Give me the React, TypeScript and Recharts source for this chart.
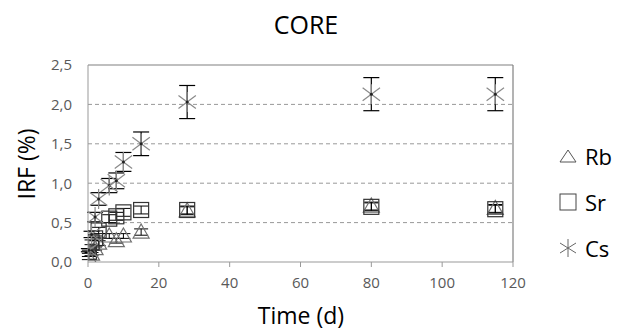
import React from 'react';
import { ScatterChart, Scatter, XAxis, YAxis, CartesianGrid, ErrorBar, ReferenceLine } from 'recharts';

const times = [0.25, 1, 2, 3, 6, 8, 10, 15, 28, 80, 115];
const rbValues = [0.05, 0.1, 0.17, 0.24, 0.33, 0.27, 0.33, 0.38, 0.65, 0.71, 0.68];
const rbErrors = [0.02, 0.02, 0.02, 0.03, 0.03, 0.03, 0.03, 0.04, 0.05, 0.05, 0.05];
const srValues = [0.13, 0.25, 0.3, 0.4, 0.55, 0.58, 0.63, 0.66, 0.66, 0.7, 0.67];
const srErrors = [0.02, 0.03, 0.03, 0.04, 0.05, 0.05, 0.05, 0.05, 0.05, 0.05, 0.05];
const csValues = [0.15, 0.35, 0.57, 0.8, 0.97, 1.03, 1.27, 1.5, 2.03, 2.13, 2.13];
const csErrors = [0.02, 0.04, 0.06, 0.08, 0.09, 0.1, 0.12, 0.15, 0.21, 0.21, 0.21];
const xTicks = [0, 20, 40, 60, 80, 100, 120];
const yTicks = [0, 0.5, 1, 1.5, 2, 2.5];
const seriesNames = ['Rb', 'Sr', 'Cs'];

const build = (vals: number[], errs: number[]) => times.map((t, i) => ({ t, v: vals[i], e: errs[i] }));
const rbData = build(rbValues, rbErrors);
const srData = build(srValues, srErrors);
const csData = build(csValues, csErrors);

const FONT = '"Open Sans", "Noto Sans", sans-serif';

const Triangle = (p: any) => {
  const { cx, cy } = p;
  const s = 8;
  return <path d={`M${cx},${cy - s} L${cx + s},${cy + s * 0.75} L${cx - s},${cy + s * 0.75} Z`} fill="none" stroke="#707070" strokeWidth={1.2} />;
};
const Square = (p: any) => {
  const { cx, cy } = p;
  const s = 7.5;
  return <rect x={cx - s} y={cy - s} width={2 * s} height={2 * s} fill="none" stroke="#333" strokeWidth={1.2} />;
};
const Asterisk = (p: any) => {
  const { cx, cy } = p;
  const s = 10;
  const dx = s * 0.87, dy = s * 0.5;
  return (
    <g stroke="#8a8a8a" strokeWidth={1.2}>
      <line x1={cx} y1={cy - s} x2={cx} y2={cy + s} />
      <line x1={cx - dx} y1={cy - dy * 1.3} x2={cx + dx} y2={cy + dy * 1.3} />
      <line x1={cx - dx} y1={cy + dy * 1.3} x2={cx + dx} y2={cy - dy * 1.3} />
      <circle cx={cx} cy={cy} r={1.5} fill="#222" stroke="none" />
    </g>
  );
};

const fmt = (v: number) => v.toFixed(1).replace('.', ',');

const legendIcons = [
  <svg width="20" height="20"><path d="M10,4 L18,16 L2,16 Z" fill="none" stroke="#555" strokeWidth="1" /></svg>,
  <svg width="20" height="20"><rect x="2" y="2" width="16" height="16" fill="none" stroke="#444" strokeWidth="1" /></svg>,
  <svg width="20" height="20"><g stroke="#666" strokeWidth="1"><line x1="10" y1="1" x2="10" y2="19" /><line x1="2" y1="5" x2="18" y2="15" /><line x1="2" y1="15" x2="18" y2="5" /></g></svg>,
];
const legendCenterY = [156, 202, 248];

export default function App() {
  return (
    <div style={{ position: 'absolute', left: 0, top: 0, width: 618, height: 330, background: '#fff', fontFamily: FONT }}>
      <ScatterChart width={618} height={330} margin={{ top: 65, right: 105, bottom: 38, left: 0 }}>
        <CartesianGrid horizontal vertical={false} stroke="#999" strokeDasharray="4 3" horizontalValues={[0.5, 1, 1.5, 2]} />
        <XAxis
          type="number"
          dataKey="t"
          domain={[0, 120]}
          ticks={xTicks}
          stroke="#999"
          tickSize={5}
          tickMargin={10}
          height={30}
          tick={{ fill: '#595959', fontSize: 15, fontFamily: FONT }}
          allowDataOverflow
        />
        <YAxis
          type="number"
          dataKey="v"
          domain={[0, 2.5]}
          ticks={yTicks}
          width={88}
          stroke="#999"
          tickLine={false}
          tickSize={8}
          tickMargin={8}
          tickFormatter={fmt}
          tick={{ fill: '#595959', fontSize: 15, fontFamily: FONT }}
          allowDataOverflow
        />
        <ReferenceLine y={2.5} stroke="#808080" strokeWidth={1.2} />
        <ReferenceLine x={120} stroke="#808080" strokeWidth={1.2} />
        <Scatter name="Rb" data={rbData} shape={Triangle} isAnimationActive={false}>
          <ErrorBar dataKey="e" direction="y" width={7} stroke="#000" strokeWidth={1} />
        </Scatter>
        <Scatter name="Sr" data={srData} shape={Square} isAnimationActive={false}>
          <ErrorBar dataKey="e" direction="y" width={7} stroke="#000" strokeWidth={1} />
        </Scatter>
        <Scatter name="Cs" data={csData} shape={Asterisk} isAnimationActive={false}>
          <ErrorBar dataKey="e" direction="y" width={8} stroke="#000" strokeWidth={1.2} />
        </Scatter>
      </ScatterChart>
      <div style={{ position: 'absolute', left: 0, width: 612, top: 7, textAlign: 'center', fontSize: 25, color: '#000', lineHeight: 'normal' }}>CORE</div>
      <div style={{ position: 'absolute', left: 0, width: 602, top: 303, height: 24, textAlign: 'center', fontSize: 23, color: '#000', lineHeight: '24px' }}>Time (d)</div>
      <div style={{ position: 'absolute', left: 26, top: 164, width: 0, height: 0 }}>
        <div style={{ position: 'absolute', transform: 'translate(-50%, -50%) rotate(-90deg)', whiteSpace: 'nowrap', fontSize: 23, color: '#000' }}>IRF (%)</div>
      </div>
      {seriesNames.map((n, i) => (
        <div key={n} style={{ position: 'absolute', left: 558, top: legendCenterY[i] - 16, height: 32, display: 'flex', alignItems: 'center', fontSize: 22, color: '#000' }}>
          {legendIcons[i]}
          <span style={{ marginLeft: 7 }}>{n}</span>
        </div>
      ))}
    </div>
  );
}
